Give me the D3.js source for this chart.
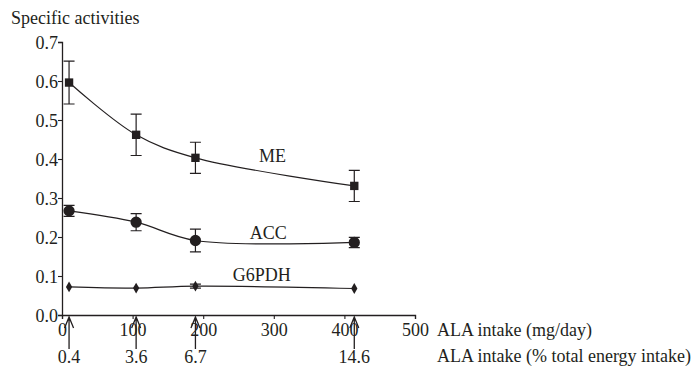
<!DOCTYPE html>
<html>
<head>
<meta charset="utf-8">
<script src="https://cdn.jsdelivr.net/npm/d3@7"></script>
<style>
  body { margin: 0; background: #fff; }
  svg { display: block; }
</style>
</head>
<body>
<svg id="chart" width="696" height="366"></svg>
<script>
// ALA intake (mg/day) of the four diets and matching % of energy intake
const alaIntake = [10, 105, 189, 414];
const energyPct = ["0.4", "3.6", "6.7", "14.6"];

const xTicks = [0, 100, 200, 300, 400, 500];
const yTicks = [0.0, 0.1, 0.2, 0.3, 0.4, 0.5, 0.6, 0.7];

// enzyme specific activities: mean and error bar (sd)
const meMean = [0.596, 0.462, 0.403, 0.331];
const meErr = [0.055, 0.053, 0.040, 0.040];
const accMean = [0.267, 0.238, 0.191, 0.186];
const accErr = [0.014, 0.022, 0.029, 0.013];
const g6pdhMean = [0.072, 0.069, 0.074, 0.068];
const g6pdhErr = [0, 0, 0.005, 0];

const seriesNames = ["ME", "ACC", "G6PDH"];
const labelPos = [[298, 0.392], [292, 0.195], [283, 0.087]]; // [mg/day, activity] at the text baseline

const ink = "#231f20";
const font = '"Liberation Serif"';
const fontSize = "18px";
const svg = d3.select("#chart");

const x = d3.scaleLinear().domain([0, 500]).range([62, 415]);
const y = d3.scaleLinear().domain([0, 0.7]).range([315, 42]);

const addText = (xp, yp, str, anchor) => svg.append("text")
    .attr("x", xp).attr("y", yp)
    .attr("text-anchor", anchor || "start")
    .attr("fill", ink)
    .style("font-family", font)
    .style("font-size", fontSize)
    .text(str);

// axes
const xAxis = svg.append("g")
    .attr("transform", `translate(0,${y(0)})`)
    .call(d3.axisBottom(x).tickValues(xTicks).tickSize(4).tickFormat(d3.format("d")));
const yAxis = svg.append("g")
    .attr("transform", `translate(${x(0)},0)`)
    .call(d3.axisLeft(y).tickValues(yTicks).tickSize(4).tickFormat(d3.format(".1f")));

[xAxis, yAxis].forEach(g => {
    g.attr("font-family", null).attr("font-size", null)
    g.select(".domain").attr("stroke", ink).attr("stroke-width", 1.3)
    g.selectAll(".tick line").attr("stroke", ink).attr("stroke-width", 1.1)
    g.selectAll(".tick text").attr("fill", ink)
        .style("font-family", font).style("font-size", fontSize)
});
xAxis.selectAll(".tick text").attr("dy", null).attr("y", 21);
yAxis.selectAll(".tick text").attr("dy", "0.36em").attr("x", -4);

// axis titles
addText(11, 24, "Specific activities");
addText(437, 336, "ALA intake (mg/day)");
addText(437, 362, "ALA intake (% total energy intake)");

// arrows marking the diets + second scale labels
alaIntake.forEach((v, i) => {
    const cx = x(v)
    svg.append("path")
        .attr("d", `M${cx},${y(0) + 34}V${y(0) + 2}M${cx - 4.5},${y(0) + 13}L${cx},${y(0) + 2}L${cx + 4.5},${y(0) + 13}`)
        .attr("fill", "none").attr("stroke", ink).attr("stroke-width", 1.3)
    addText(cx, 363, energyPct[i], "middle")
});

const series = [
    {mean: meMean, err: meErr, shape: d3.symbolSquare, size: 70},
    {mean: accMean, err: accErr, shape: d3.symbolCircle, size: 100},
    {mean: g6pdhMean, err: g6pdhErr, shape: d3.symbolDiamond, size: 34}
];

const line = d3.line()
    .x(d => x(d[0]))
    .y(d => y(d[1]))
    .curve(d3.curveCatmullRom.alpha(0.5));

series.forEach((s, si) => {
    const pts = alaIntake.map((v, i) => [v, s.mean[i], s.err[i]]);
    const g = svg.append("g").attr("class", "series");

    g.append("path")
        .datum(pts)
        .attr("d", line)
        .attr("fill", "none")
        .attr("stroke", ink)
        .attr("stroke-width", 1.2);

    // error bars
    pts.filter(d => d[2] > 0).forEach(d => {
        const cx = x(d[0]);
        g.append("path")
            .attr("d", `M${cx},${y(d[1] + d[2])}V${y(d[1] - d[2])}` +
                `M${cx - 5.5},${y(d[1] + d[2])}H${cx + 5.5}` +
                `M${cx - 5.5},${y(d[1] - d[2])}H${cx + 5.5}`)
            .attr("fill", "none").attr("stroke", ink).attr("stroke-width", 1.2);
    });

    g.selectAll("path.mark")
        .data(pts)
        .join("path")
        .attr("class", "mark")
        .attr("transform", d => `translate(${x(d[0])},${y(d[1])})`)
        .attr("d", d3.symbol().type(s.shape).size(s.size))
        .attr("fill", ink);

    addText(x(labelPos[si][0]), y(labelPos[si][1]), seriesNames[si], "middle");
});
</script>
</body>
</html>
